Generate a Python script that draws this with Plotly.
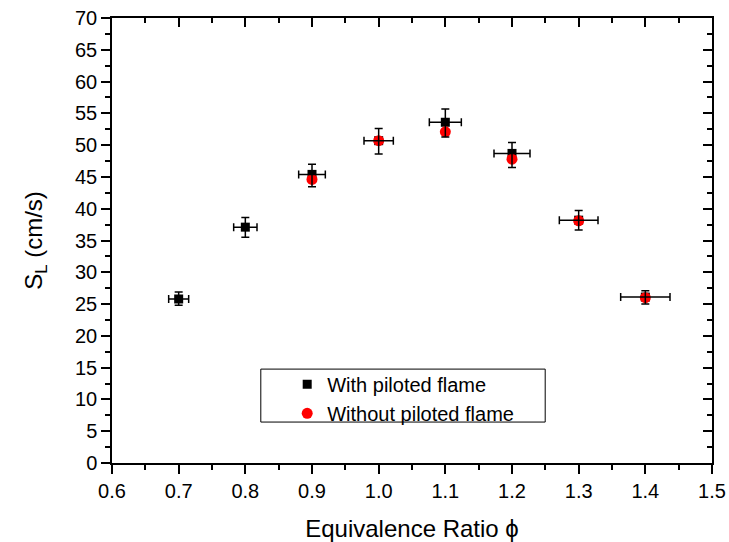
import plotly.graph_objects as go

phi_with = [0.7, 0.8, 0.9, 1.0, 1.1, 1.2, 1.3, 1.4]
sl_with = [25.8, 37.1, 45.4, 50.7, 53.6, 48.7, 38.2, 26.1]
err_y_plus = [1.1, 1.5, 1.6, 1.9, 2.1, 1.7, 1.5, 1.0]
err_y_minus = [1.0, 1.6, 1.95, 2.1, 2.3, 2.2, 1.55, 1.1]
err_x = [0.015, 0.0175, 0.02, 0.022, 0.024, 0.027, 0.029, 0.037]

phi_without = [0.9, 1.0, 1.1, 1.2, 1.3, 1.4]
sl_without = [44.6, 50.7, 52.1, 47.8, 38.1, 26.0]

x_ticks = [0.6, 0.7, 0.8, 0.9, 1.0, 1.1, 1.2, 1.3, 1.4, 1.5]
y_ticks = list(range(0, 75, 5))

FONT = "Liberation Sans, Arial, sans-serif"

fig = go.Figure()
fig.add_trace(go.Scatter(
    x=phi_with, y=sl_with, mode="markers", name="With piloted flame",
    marker=dict(symbol="square", size=9, color="black", line=dict(width=0)),
))
fig.add_trace(go.Scatter(
    x=phi_without, y=sl_without, mode="markers", name="Without piloted flame",
    marker=dict(symbol="circle", size=11, color="#ff0000", line=dict(width=0)),
))
fig.add_trace(go.Scatter(
    x=phi_with, y=sl_with, mode="markers", showlegend=False, hoverinfo="skip",
    marker=dict(size=1, opacity=0),
    error_y=dict(type="data", array=err_y_plus, arrayminus=err_y_minus, symmetric=False,
                 color="black", thickness=1.5, width=4),
    error_x=dict(type="data", array=err_x, color="black", thickness=1.5, width=4),
))
# mirrored frame axes (ticks inside on top/right)
fig.add_trace(go.Scatter(x=[None], y=[None], xaxis="x2", yaxis="y2",
                         showlegend=False, hoverinfo="skip"))

axis_common = dict(showgrid=False, zeroline=False, showline=True, linecolor="black",
                   linewidth=1.5, tickcolor="black", tickwidth=1.5, automargin=False)

# legend frame drawn as a shape (reference box has wide left padding)
fig.add_shape(type="rect", xref="paper", yref="paper",
              x0=0.248, x1=0.722, y0=0.092, y1=0.211,
              line=dict(color="black", width=1), fillcolor="white", layer="above")

fig.update_layout(
    width=729, height=542,
    margin=dict(l=112, r=17, t=18, b=79),
    paper_bgcolor="white", plot_bgcolor="white",
    font=dict(family=FONT, color="black"),
    showlegend=True,
    legend=dict(x=0.292, y=0.2206, xanchor="left", yanchor="top",
                bgcolor="rgba(0,0,0,0)", borderwidth=0,
                font=dict(size=20, family=FONT), itemsizing="trace",
                tracegroupgap=0),
    xaxis=dict(range=[0.6, 1.5], tickvals=x_ticks, ticktext=[f"{v:.1f}" for v in x_ticks],
               ticks="outside", ticklen=9,
               minor=dict(dtick=0.05, ticks="outside", ticklen=5, tickcolor="black", tickwidth=1.5),
               tickfont=dict(size=20), title=dict(text="Equivalence Ratio ϕ", font=dict(size=24), standoff=20),
               **axis_common),
    yaxis=dict(range=[0, 70], tickvals=y_ticks, ticks="outside", ticklen=9,
               minor=dict(dtick=2.5, ticks="outside", ticklen=5, tickcolor="black", tickwidth=1.5),
               tickfont=dict(size=20), title=dict(text="S<sub>L</sub> (cm/s)", font=dict(size=24), standoff=26),
               **axis_common),
    xaxis2=dict(range=[0.6, 1.5], overlaying="x", side="top", anchor="y2", tickvals=x_ticks,
                showticklabels=False, ticks="inside", ticklen=9,
                minor=dict(dtick=0.05, ticks="inside", ticklen=5, tickcolor="black", tickwidth=1.5),
                **axis_common),
    yaxis2=dict(range=[0, 70], overlaying="y", side="right", anchor="x2", tickvals=y_ticks,
                showticklabels=False, ticks="inside", ticklen=9,
                minor=dict(dtick=2.5, ticks="inside", ticklen=5, tickcolor="black", tickwidth=1.5),
                **axis_common),
)

fig.write_html("out.html", config={"displayModeBar": False},
               post_script="document.body.style.margin='0';document.body.style.overflow='hidden';")
